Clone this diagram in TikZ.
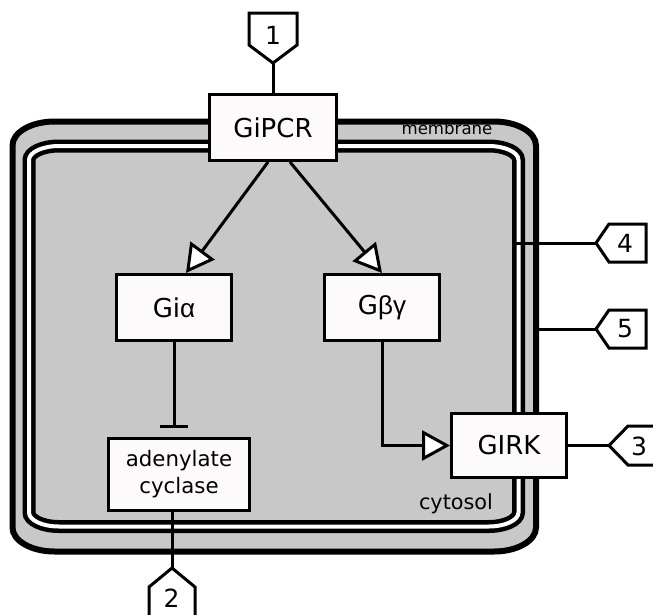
\documentclass[tikz,border=0pt]{standalone}
\usepackage{fontspec}
\setmainfont{DejaVu Sans}
\newfontfamily\grk{Liberation Sans}
\usetikzlibrary{arrows.meta,calc}
\definecolor{cgray}{RGB}{200,200,200}
\definecolor{boxw}{RGB}{252,250,250}
\newcommand\ellrr[6]{(#1+#5,#2) -- (#3-#5,#2) arc[start angle=-90,end angle=0,x radius=#5,y radius=#6] -- (#3,#4-#6) arc[start angle=0,end angle=90,x radius=#5,y radius=#6] -- (#1+#5,#4) arc[start angle=90,end angle=180,x radius=#5,y radius=#6] -- (#1,#2+#6) arc[start angle=180,end angle=270,x radius=#5,y radius=#6] -- cycle}
\begin{document}
\begin{tikzpicture}[x=1pt,y=-1pt,line join=miter,
  box/.style={draw,line width=3pt,fill=boxw,inner sep=0pt,minimum width=115pt,minimum height=66pt,font=\fontsize{26}{30}\selectfont},
  conn/.style={line width=3pt},
  opentri/.style={-{Triangle[fill=white,length=28pt,width=30pt,line width=3pt]}},
  tagshape/.style={draw,line width=3pt,fill=white},
  tagtxt/.style={font=\fontsize{25}{30}\selectfont,inner sep=0pt}]
\useasboundingbox (0,0) rectangle (653,614);
\begin{scope}
\clip (0,0) rectangle (653,614);
% compartments
\fill[cgray] \ellrr{12.5}{121.5}{536}{551.5}{42}{24};
\draw[line width=6pt] \ellrr{12.5}{121.5}{536}{551.5}{42}{24};
\draw[line width=13pt] \ellrr{29}{146}{518.5}{526.5}{30}{14};
\draw[line width=4pt,white] \ellrr{29}{146}{518.5}{526.5}{30}{14};
\node[font=\fontsize{16.6}{20}\selectfont,inner sep=0pt] (memlbl) at (447,128) {membrane};
\node[font=\fontsize{20.8}{24}\selectfont,inner sep=0pt] (cytlbl) at (456,504) {cytosol};
% nodes
\node[box,minimum width=127pt] (gipcr) at (273,127.5) {GiPCR};
\node[box] (gia) at (174,307.5) {Gi{\grk α}};
\node[box] (gbg) at (382,307.5) {G{\grk βγ}};
\node[box,minimum width=141pt,minimum height=72pt,align=center,font=\fontsize{21.3}{27}\selectfont] (ac) at (179,474.5) {adenylate\\cyclase};
\node[box,minimum height=64pt] (girk) at (509,445.5) {GIRK};
% tags
\draw[tagshape] (249,13) -- (297,13) -- (297,45) -- (273,63) -- (249,45) -- cycle;
\coordinate (tp1) at (273,63);
\node[tagtxt] (t1) at (273,35) {1};
\draw[tagshape] (172,568) -- (195,587) -- (195,630) -- (149,630) -- (149,587) -- cycle;
\coordinate (tp2) at (172,568);
\node[tagtxt] (t2) at (171.5,598) {2};
\draw[tagshape] (609,445.5) -- (628,426) -- (670,426) -- (670,465) -- (628,465) -- cycle;
\coordinate (tp3) at (609,445.5);
\node[tagtxt] (t3) at (639,446) {3};
\draw[tagshape] (596,243) -- (609,224) -- (646,224) -- (646,262) -- (609,262) -- cycle;
\coordinate (tp4) at (596,243);
\node[tagtxt] (t4) at (625,243) {4};
\draw[tagshape] (596,329) -- (609,310) -- (646,310) -- (646,348) -- (609,348) -- cycle;
\coordinate (tp5) at (596,329);
\node[tagtxt] (t5) at (625,329) {5};
\coordinate (cyto4) at (516,243);
\coordinate (mem5) at (537,329);
% connectors
\draw[conn] (tp1) -- (gipcr.north);
\draw[conn,opentri] ($(gipcr.south)+(-5,0)$) -- ($(gia.north)+(12,0)$);
\draw[conn,opentri] ($(gipcr.south)+(17,0)$) -- (gbg.north);
\draw[conn,-{Bar[width=28pt]},shorten >=9pt] (gia.south) -- (gia.south |- ac.north);
\draw[conn] (tp2 |- ac.south) -- (tp2);
\draw[conn,opentri] (gbg.south) |- (girk.west);
\draw[conn] (girk.east) -- (tp3);
\draw[conn] (cyto4) -- (tp4);
\draw[conn] (mem5) -- (tp5);
\end{scope}
\end{tikzpicture}
\end{document}
